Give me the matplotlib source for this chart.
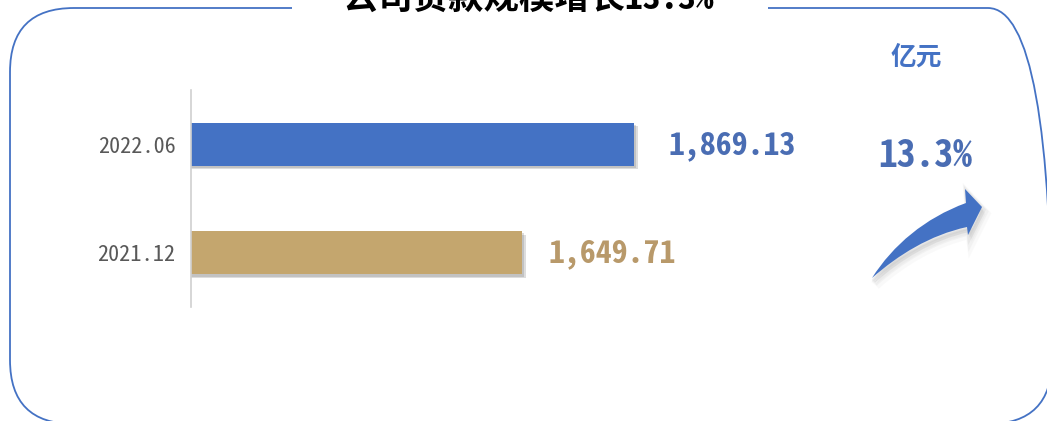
import numpy as np
import matplotlib
matplotlib.use("Agg")
import matplotlib.pyplot as plt
import matplotlib.patheffects as pe
from matplotlib.patches import FancyBboxPatch, Rectangle, PathPatch
from matplotlib.path import Path

plt.rcParams["font.family"] = ["Noto Sans Mono CJK SC", "Noto Sans CJK SC", "DejaVu Sans"]

# data
periods = ["2021.12", "2022.06"]
values = [1649.71, 1869.13]
value_labels = ["1,649.71", "1,869.13"]
bar_colors = ["#C4A66E", "#4472C4"]
label_colors = ["#B8996A", "#4A6DB3"]
title = "公司贷款规模增长13.3%"
unit = "亿元"
growth = "13.3%"

W, H = 1047, 421
fig = plt.figure(figsize=(W / 100, H / 100), dpi=100)

# overlay axes in pixel units for decorations (y measured from the top via fy)
deco = fig.add_axes([0, 0, 1, 1])
deco.set_xlim(0, W)
deco.set_ylim(0, H)
deco.axis("off")


def fy(y):
    return H - y


frame = FancyBboxPatch((10, fy(424)), 1052 - 10, 424 - 8,
                       boxstyle="round,pad=0,rounding_size=64",
                       fill=False, edgecolor="#4472C4", linewidth=1.3)
deco.add_patch(frame)
deco.add_patch(Rectangle((292, fy(14)), 768 - 292, 14, facecolor="white", edgecolor="none"))
deco.text(528, fy(9), title, ha="center", va="baseline", fontsize=25.5,
          fontweight="bold", color="black")

deco.text(916, fy(57), unit, ha="center", va="center", fontsize=18.5,
          fontweight="bold", color="#4472C4")
deco.text(925, fy(156), growth, ha="center", va="center", fontsize=27,
          fontweight="bold", color="#4A6DB3")


# curved arrow
def arrow_path(dx=0, dy=0):
    pts = [(872, 278), (893, 245), (925, 218), (966, 203),
           (965, 189), (982, 207), (968, 235),
           (967, 227), (930, 235), (898, 255), (872, 278)]
    codes = [Path.MOVETO, Path.CURVE4, Path.CURVE4, Path.CURVE4,
             Path.LINETO, Path.LINETO, Path.LINETO,
             Path.LINETO, Path.CURVE4, Path.CURVE4, Path.CURVE4]
    return Path([(x + dx, fy(yy + dy)) for x, yy in pts], codes)


for k, a in [(7, 0.04), (5, 0.06), (3, 0.08)]:
    deco.add_patch(PathPatch(arrow_path(k * 0.5, k), facecolor="#777777",
                             edgecolor="#777777", linewidth=k, alpha=a))
deco.add_patch(PathPatch(arrow_path(), facecolor="#4472C4", edgecolor="none"))

# bar axes
left, right, top, bottom = 191, 701, 90, 307
ax = fig.add_axes([left / W, 1 - bottom / H, (right - left) / W, (bottom - top) / H])
y = np.arange(len(periods))
bars = ax.barh(y, values, height=0.4, color=bar_colors)
for b in bars:
    b.set_path_effects([pe.SimplePatchShadow(offset=(2.5, -2.5), shadow_rgbFace="#666666",
                                             alpha=0.22),
                        pe.SimplePatchShadow(offset=(1.5, -1.5), shadow_rgbFace="#666666",
                                             alpha=0.22),
                        pe.Normal()])
ax.set_xlim(1000, 2000)
ax.set_ylim(-0.5, 1.5)
ax.set_yticks(y)
ax.set_yticklabels(periods, fontsize=16, color="#595959")
ax.tick_params(axis="y", length=0, pad=11)
ax.set_xticks([])
for s in ["top", "right", "bottom"]:
    ax.spines[s].set_visible(False)
ax.spines["left"].set_color("#D0D0D0")
ax.spines["left"].set_linewidth(1.2)
ax.patch.set_alpha(0)

offsets = [26, 34]
for i, (v, lab) in enumerate(zip(values, value_labels)):
    ax.annotate(lab, (v, y[i]), xytext=(offsets[i] * 0.72, -1), textcoords="offset points",
                ha="left", va="center", fontsize=23, fontweight="bold",
                color=label_colors[i], annotation_clip=False)

fig.savefig("out.png", dpi=100)
